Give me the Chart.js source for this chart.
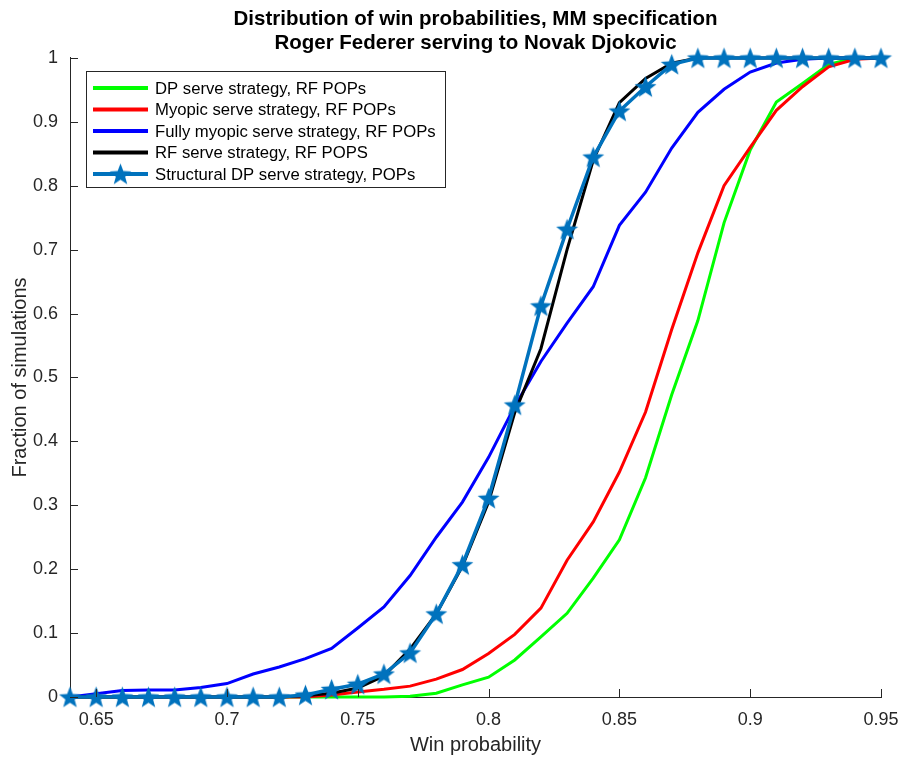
<!DOCTYPE html>
<html>
<head>
<meta charset="utf-8">
<script src="https://cdn.jsdelivr.net/npm/chart.js@4"></script>
<style>
  body { margin: 0; background: #fff; }
  #wrap { width: 900px; height: 757px; }
</style>
</head>
<body>
<div id="wrap"><canvas id="winChart" width="900" height="757"></canvas></div>
<script>
// Win probability grid (x) and fraction of simulations for each strategy
const winProb = [0.64, 0.65, 0.66, 0.67, 0.68, 0.69, 0.70, 0.71, 0.72, 0.73, 0.74, 0.75, 0.76, 0.77, 0.78, 0.79,
                 0.80, 0.81, 0.82, 0.83, 0.84, 0.85, 0.86, 0.87, 0.88, 0.89, 0.90, 0.91, 0.92, 0.93, 0.94, 0.95];
const dpServe = [0, 0, 0, 0, 0, 0, 0, 0, 0, 0, 0, 0, 0, 0.001, 0.006, 0.019,
                 0.031, 0.058, 0.094, 0.131, 0.186, 0.246, 0.343, 0.473, 0.589, 0.742, 0.856, 0.931, 0.96, 0.99, 1, 1];
const myopicServe = [0, 0, 0, 0, 0, 0, 0, 0, 0, 0, 0.003, 0.008, 0.012, 0.017, 0.028, 0.043,
                     0.068, 0.098, 0.139, 0.214, 0.274, 0.352, 0.446, 0.575, 0.695, 0.80, 0.86, 0.918, 0.955, 0.986, 0.998, 1];
const fullyMyopic = [0, 0.005, 0.01, 0.011, 0.011, 0.015, 0.021, 0.036, 0.047, 0.06, 0.076, 0.108, 0.141, 0.19, 0.25, 0.305,
                     0.375, 0.455, 0.525, 0.585, 0.642, 0.738, 0.79, 0.859, 0.915, 0.951, 0.978, 0.992, 0.998, 1, 1, 1];
const rfServe = [0, 0, 0, 0, 0, 0, 0, 0, 0, 0.002, 0.006, 0.014, 0.033, 0.075, 0.13, 0.205,
                 0.305, 0.445, 0.545, 0.70, 0.84, 0.93, 0.968, 0.992, 1, 1, 1, 1, 1, 1, 1, 1];
const structuralDP = [0, 0, 0, 0, 0, 0, 0, 0, 0, 0.003, 0.012, 0.02, 0.036, 0.069, 0.13, 0.207,
                      0.311, 0.457, 0.612, 0.732, 0.845, 0.917, 0.955, 0.99, 1, 1, 1, 1, 1, 1, 1, 1];
const xTicks = [0.65, 0.7, 0.75, 0.8, 0.85, 0.9, 0.95];
const yTicks = [0, 0.1, 0.2, 0.3, 0.4, 0.5, 0.6, 0.7, 0.8, 0.9, 1];

const axisColor = '#262626';
const fontName = '"Liberation Sans", Arial, sans-serif';

// filled five-point star for the structural series
function makeStar(size, color) {
    const c = document.createElement('canvas');
    c.width = size; c.height = size;
    const g = c.getContext('2d');
    const cx = size / 2, cy = size / 2 + 1, ro = size / 2, ri = ro * 0.42;
    g.beginPath();
    for (let i = 0; i < 10; i++) {
        const r = i % 2 === 0 ? ro : ri;
        const a = -Math.PI / 2 + i * Math.PI / 5;
        g.lineTo(cx + r * Math.cos(a), cy + r * Math.sin(a));
    }
    g.closePath();
    g.fillStyle = color;
    g.fill();
    return c;
}
const starImg = makeStar(23, '#0072BD');

function toPoints(ys) {
    return winProb.map((x, i) => ({ x: x, y: ys[i] }));
}

function series(label, ys, color, order) {
    return {
        label: label,
        data: toPoints(ys),
        borderColor: color,
        backgroundColor: color,
        borderWidth: 3,
        pointRadius: 0,
        tension: 0,
        clip: false,
        order: order
    };
}

const datasets = [
    series('DP serve strategy, RF POPs', dpServe, '#00FF00', 4),
    series('Myopic serve strategy, RF POPs', myopicServe, '#FF0000', 3),
    series('Fully myopic serve strategy, RF POPs', fullyMyopic, '#0000FF', 2),
    series('RF serve strategy, RF POPS', rfServe, '#000000', 1),
    Object.assign(series('Structural DP serve strategy, POPs', structuralDP, '#0072BD', 0), {
        borderWidth: 3.5,
        pointStyle: starImg,
        pointRadius: 11
    })
];

// MATLAB style inward ticks
const inwardTicks = {
    id: 'inwardTicks',
    afterDatasetsDraw(chart) {
        const ctx = chart.ctx;
        const a = chart.chartArea;
        const xs = chart.scales.x, ys = chart.scales.y;
        ctx.save();
        ctx.strokeStyle = axisColor;
        ctx.lineWidth = 1;
        ctx.beginPath();
        xTicks.forEach(v => {
            const px = Math.round(xs.getPixelForValue(v)) + 0.5;
            ctx.moveTo(px, a.bottom);
            ctx.lineTo(px, a.bottom - 8);
        });
        yTicks.forEach(v => {
            const py = Math.round(ys.getPixelForValue(v)) + 0.5;
            ctx.moveTo(a.left, py);
            ctx.lineTo(a.left + 8, py);
        });
        ctx.stroke();
        ctx.restore();
    }
};

// boxed legend in the upper left of the plot
const boxLegend = {
    id: 'boxLegend',
    afterDraw(chart) {
        const ctx = chart.ctx;
        const left = 86, top = 71, w = 359, h = 116, rowH = 21.5;
        ctx.save();
        ctx.fillStyle = '#fff';
        ctx.fillRect(left, top, w, h);
        ctx.strokeStyle = '#262626';
        ctx.lineWidth = 1;
        ctx.strokeRect(left + 0.5, top + 0.5, w, h);
        ctx.font = '16.7px ' + fontName;
        ctx.textBaseline = 'middle';
        chart.data.datasets.forEach((ds, i) => {
            const y = top + 17 + i * rowH;
            ctx.strokeStyle = ds.borderColor;
            ctx.lineWidth = 4;
            ctx.beginPath();
            ctx.moveTo(93, y);
            ctx.lineTo(148, y);
            ctx.stroke();
            if (ds.pointStyle) {
                ctx.drawImage(starImg, 120.5 - starImg.width / 2, y - starImg.height / 2);
            }
            ctx.fillStyle = '#000';
            ctx.fillText(ds.label, 155, y + 1);
        });
        ctx.restore();
    }
};

const ctx = document.getElementById('winChart').getContext('2d');
const winChart = new Chart(ctx, {
    type: 'line',
    data: { datasets: datasets },
    options: {
        responsive: false,
        animation: false,
        layout: { padding: { left: 0, right: 19, top: 0, bottom: 0 } },
        plugins: {
            legend: { display: false },
            tooltip: { enabled: false },
            title: {
                display: true,
                fullSize: false,
                text: ['Distribution of win probabilities, MM specification', 'Roger Federer serving to Novak Djokovic'],
                color: '#000',
                font: { family: fontName, size: 20.5, weight: 'bold', lineHeight: 1.17 },
                padding: { top: 7, bottom: 3 }
            }
        },
        scales: {
            x: {
                type: 'linear',
                min: 0.64,
                max: 0.95,
                grid: { display: false, drawTicks: false },
                border: { display: true, color: axisColor, width: 1 },
                afterBuildTicks: s => { s.ticks = xTicks.map(v => ({ value: v })); },
                afterFit: s => { s.height = 60; s.paddingLeft = 0; s.paddingRight = 0; },
                ticks: {
                    color: axisColor,
                    padding: 12,
                    maxRotation: 0,
                    font: { family: fontName, size: 18 },
                    callback: v => String(v)
                },
                title: {
                    display: true,
                    text: 'Win probability',
                    color: axisColor,
                    font: { family: fontName, size: 20 },
                    padding: { top: 2, bottom: 0 }
                }
            },
            y: {
                min: 0,
                max: 1,
                grid: { display: false, drawTicks: false },
                border: { display: true, color: axisColor, width: 1 },
                afterBuildTicks: s => { s.ticks = yTicks.map(v => ({ value: v })); },
                afterFit: s => { s.width = 70; s.paddingTop = 0; s.paddingBottom = 0; },
                ticks: {
                    color: axisColor,
                    padding: 12,
                    font: { family: fontName, size: 18 },
                    callback: v => String(Math.round(v * 10) / 10)
                },
                title: {
                    display: true,
                    text: 'Fraction of simulations',
                    color: axisColor,
                    font: { family: fontName, size: 20 },
                    padding: { top: 8, bottom: 0 }
                }
            }
        }
    },
    plugins: [inwardTicks, boxLegend]
});
</script>
</body>
</html>
